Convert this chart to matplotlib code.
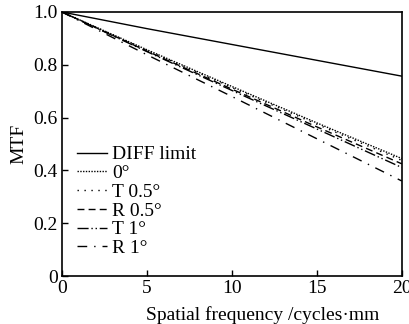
import matplotlib.pyplot as plt

plt.rcParams['font.family'] = ['Liberation Serif', 'DejaVu Serif']

freq = [0, 5, 10, 15, 20]
diff_limit = [1.0, 0.937, 0.877, 0.817, 0.757]
mtf_0 = [1.0, 0.857, 0.718, 0.580, 0.445]
mtf_t05 = [1.0, 0.855, 0.714, 0.575, 0.438]
mtf_r05 = [1.0, 0.852, 0.708, 0.565, 0.425]
mtf_t1 = [1.0, 0.850, 0.703, 0.557, 0.411]
mtf_r1 = [1.0, 0.838, 0.680, 0.520, 0.360]

labels = ['DIFF limit', '0°', 'T 0.5°', 'R 0.5°', 'T 1°', 'R 1°']
styles = ['-', (0, (1, 1)), (0, (1, 4)), (0, (5, 3)),
          (0, (8, 2, 1, 2, 1, 2)), (0, (7, 5, 1, 5))]

fig = plt.figure(figsize=(4.1, 3.24), dpi=100)
ax = fig.add_axes([0.151, 0.148, 0.829, 0.815])

series = [diff_limit, mtf_0, mtf_t05, mtf_r05, mtf_t1, mtf_r1]
for vals, lab, ls in zip(series, labels, styles):
    ax.plot(freq, vals, color='black', linestyle=ls, linewidth=1.0, label=lab)

ax.set_xlim(0, 20)
ax.set_ylim(0, 1.0)
ax.set_xticks([0, 5, 10, 15, 20])
ax.set_xticklabels(['0', '5', '10', '15', '20'])
ax.set_yticks([0, 0.2, 0.4, 0.6, 0.8, 1.0])
ax.set_yticklabels(['0', '0.2', '0.4', '0.6', '0.8', '1.0'])
ax.tick_params(direction='in', labelsize=14, length=4, width=1, pad=3)
for s in ax.spines.values():
    s.set_linewidth(1.2)

ax.set_xlabel('Spatial frequency /cycles·mm', fontsize=14, labelpad=0)
ax.xaxis.set_label_coords(0.59, -0.115)
ax.set_ylabel('MTF', fontsize=14, labelpad=4)

ax.legend(loc='lower left', frameon=False, fontsize=14, handlelength=1.55,
          handletextpad=0.25, labelspacing=0.06, borderaxespad=0.2,
          bbox_to_anchor=(0.01, 0.027))

fig.savefig('out.png', dpi=100)
